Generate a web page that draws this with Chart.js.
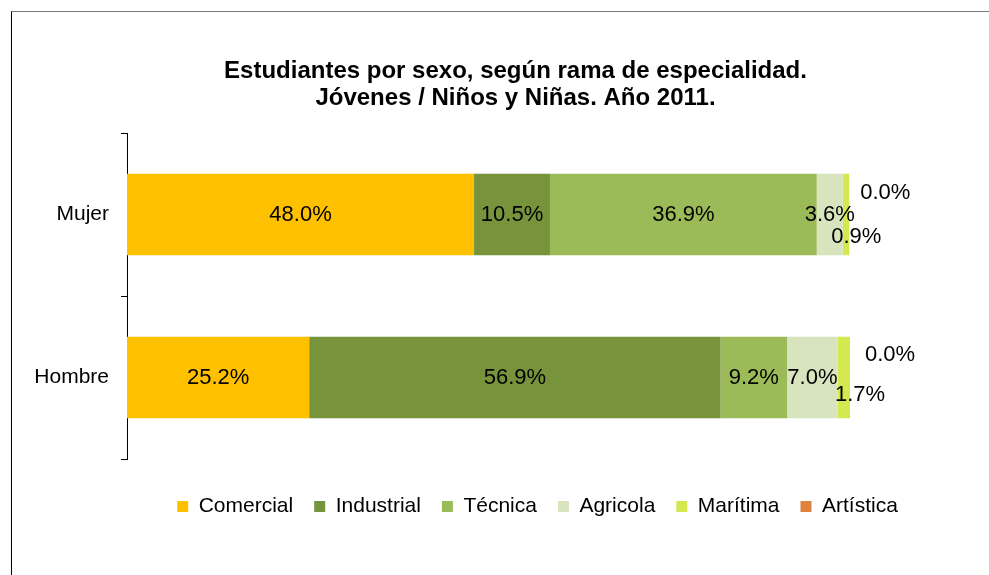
<!DOCTYPE html>
<html>
<head>
<meta charset="utf-8">
<script src="https://cdn.jsdelivr.net/npm/chart.js@4.4.1/dist/chart.umd.min.js"></script>
<style>
    html, body { margin: 0; padding: 0; background: #fff; overflow: hidden; }
    #frame {
        position: absolute; left: 11px; top: 11px; width: 1200px; height: 800px;
        border-top: 1px solid #7a7a7a; border-left: 1px solid #000;
    }
    #wrap { position: absolute; left: 0; top: 0; width: 989px; height: 575px; }
</style>
</head>
<body>
<div id="frame"></div>
<div id="wrap"><canvas id="barChart"></canvas></div>
<script>
    // Datos
    const categorias = ['Mujer', 'Hombre'];
    const ramas = ['Comercial', 'Industrial', 'Técnica', 'Agricola', 'Marítima', 'Artística'];
    const comercial = [48.0, 25.2];
    const industrial = [10.5, 56.9];
    const tecnica = [36.9, 9.2];
    const agricola = [3.6, 7.0];
    const maritima = [0.9, 1.7];
    const artistica = [0.0, 0.0];
    const colores = ['#FFC000', '#77933C', '#9BBB59', '#D7E4BD', '#D5E84F', '#DE843F'];

    const FONT = '"Liberation Sans", Arial, sans-serif';
    Chart.defaults.font.family = FONT;
    Chart.defaults.color = '#000';

    // Etiquetas de datos (las pequeñas van desplazadas como en Excel)
    const desplazamientos = {
        4: [{ dx: 7, dy: 22 }, { dx: 10, dy: 17 }],
        5: [{ dx: 36, dy: -22 }, { dx: 40, dy: -23 }]
    };

    const etiquetasPlugin = {
        id: 'etiquetas',
        afterDatasetsDraw(chart) {
            const ctx = chart.ctx;
            ctx.save();
            ctx.font = '22px ' + FONT;
            ctx.fillStyle = '#000';
            ctx.textAlign = 'center';
            ctx.textBaseline = 'middle';
            chart.data.datasets.forEach((ds, i) => {
                const meta = chart.getDatasetMeta(i);
                meta.data.forEach((el, j) => {
                    const txt = ds.data[j].toFixed(1) + '%';
                    let x = (el.x + el.base) / 2;
                    let y = el.y;
                    if (desplazamientos[i]) {
                        x = el.x + desplazamientos[i][j].dx;
                        y = el.y + desplazamientos[i][j].dy;
                    }
                    ctx.fillText(txt, x, y);
                });
            });
            ctx.restore();
        }
    };

    // Título y leyenda un poco a la derecha, como en el original
    const moverPlugin = {
        id: 'mover',
        afterLayout(chart) {
            if (chart.titleBlock) {
                chart.titleBlock.left += 21;
                chart.titleBlock.right += 21;
            }
            if (chart.legend) {
                chart.legend.left += 43;
                chart.legend.right += 43;
            }
        }
    };

    const series = [comercial, industrial, tecnica, agricola, maritima, artistica];

    const ctx = document.getElementById('barChart').getContext('2d');
    const barChart = new Chart(ctx, {
        type: 'bar',
        data: {
            labels: categorias,
            datasets: series.map((d, i) => ({
                label: ramas[i],
                data: d,
                backgroundColor: colores[i],
                borderWidth: 0,
                barPercentage: 0.5,
                categoryPercentage: 1.0
            }))
        },
        options: {
            indexAxis: 'y',
            responsive: true,
            maintainAspectRatio: false,
            animation: false,
            layout: { padding: { left: 0, right: 0, top: 0, bottom: 48 } },
            plugins: {
                title: {
                    display: true,
                    text: ['Estudiantes por sexo, según rama de especialidad.', 'Jóvenes / Niños y Niñas. Año 2011.'],
                    font: { size: 24, weight: 'bold', lineHeight: 1.125 },
                    color: '#000',
                    padding: { top: 58, bottom: 21 }
                },
                legend: {
                    position: 'bottom',
                    labels: {
                        boxWidth: 11,
                        boxHeight: 11,
                        padding: 21,
                        font: { size: 21 },
                        color: '#000'
                    }
                },
                tooltip: { enabled: true }
            },
            scales: {
                x: {
                    stacked: true,
                    min: 0,
                    max: 100,
                    ticks: { display: false },
                    grid: { display: false },
                    border: { display: false },
                    afterFit: s => { s.height = 16; }
                },
                y: {
                    stacked: true,
                    grid: {
                        display: true,
                        drawOnChartArea: false,
                        tickLength: 6,
                        color: '#000',
                        offset: true
                    },
                    border: { display: true, color: '#000' },
                    ticks: { font: { size: 21 }, color: '#000', padding: 12 },
                    afterFit: s => { s.width = 127; }
                },
                derecha: {
                    axis: 'y',
                    type: 'linear',
                    position: 'right',
                    ticks: { display: false },
                    grid: { display: false },
                    border: { display: false },
                    afterFit: s => { s.width = 139; }
                }
            }
        },
        plugins: [etiquetasPlugin, moverPlugin]
    });
</script>
</body>
</html>
